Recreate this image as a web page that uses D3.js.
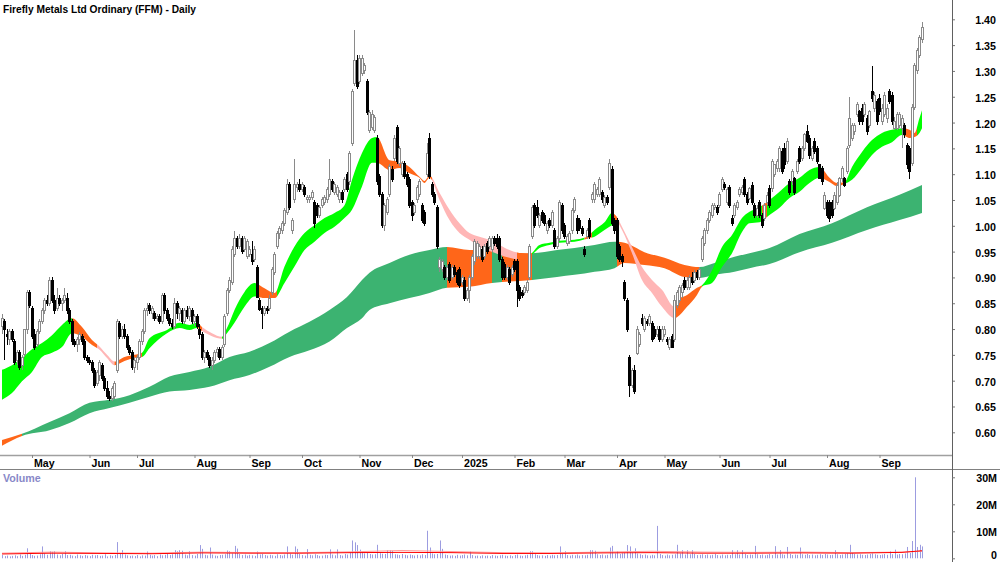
<!DOCTYPE html>
<html>
<head>
<meta charset="utf-8">
<script src="https://cdn.jsdelivr.net/npm/d3@7"></script>
<style>
  body { margin: 0; background: #fff; }
  svg text { font-family: "Liberation Sans", Arial, sans-serif; font-weight: bold; }
</style>
</head>
<body>
<script>
var width = 1000, height = 562;

var title = 'Firefly Metals Ltd Ordinary (FFM) - Daily';
var firstDay = new Date(2024, 3, 12);
var holidays = ['2024-04-25', '2024-06-10', '2024-12-25', '2024-12-26', '2025-01-01',
  '2025-01-27', '2025-04-18', '2025-04-21', '2025-04-25', '2025-06-09'];
var monthLabels = ['May', 'Jun', 'Jul', 'Aug', 'Sep', 'Oct', 'Nov', 'Dec', '2025',
  'Feb', 'Mar', 'Apr', 'May', 'Jun', 'Jul', 'Aug', 'Sep'];
var priceTicks = [0.60, 0.65, 0.70, 0.75, 0.80, 0.85, 0.90, 0.95, 1.00, 1.05, 1.10,
  1.15, 1.20, 1.25, 1.30, 1.35, 1.40];
var volTicks = [0, 10, 20, 30];

// daily bars: [open, high, low, close]
var ohlc = [
  [.805,.83,.79,.82],[.815,.82,.74,.80],[.79,.80,.77,.785],[.78,.80,.77,.795],[.795,.80,.775,.78],
  [.775,.78,.73,.735],[.74,.76,.73,.755],[.755,.76,.72,.725],[.73,.75,.72,.745],[.75,.80,.745,.80],
  [.80,.875,.79,.87],[.87,.875,.84,.845],[.84,.845,.78,.785],[.79,.80,.76,.765],[.77,.80,.765,.795],
  [.795,.82,.79,.815],[.815,.84,.81,.835],[.835,.86,.83,.855],[.855,.865,.845,.85],[.85,.90,.845,.895],
  [.895,.90,.85,.855],[.855,.865,.83,.835],[.84,.88,.835,.86],[.86,.865,.845,.85],[.85,.86,.835,.855],
  [.855,.88,.85,.865],[.86,.87,.83,.835],[.835,.84,.81,.815],[.815,.82,.77,.775],[.775,.78,.765,.77],
  [.77,.785,.755,.78],[.78,.795,.77,.79],[.785,.79,.77,.775],[.775,.78,.74,.745],[.745,.75,.735,.74],
  [.74,.745,.73,.735],[.735,.74,.715,.72],[.72,.725,.685,.69],[.695,.72,.69,.715],[.71,.74,.70,.735],
  [.73,.735,.70,.705],[.705,.71,.68,.685],[.685,.70,.665,.67],[.67,.68,.66,.665],[.665,.69,.66,.685],
  [.67,.70,.665,.695],[.72,.82,.715,.815],[.81,.815,.78,.785],[.785,.805,.78,.80],[.80,.81,.78,.785],
  [.785,.79,.76,.765],[.765,.77,.75,.755],[.755,.76,.72,.725],[.725,.745,.715,.74],[.735,.75,.72,.745],
  [.745,.78,.74,.775],[.775,.80,.77,.795],[.795,.84,.79,.835],[.835,.85,.825,.84],[.845,.85,.83,.835],
  [.83,.845,.82,.84],[.83,.835,.815,.82],[.82,.83,.815,.825],[.825,.83,.81,.815],[.815,.87,.81,.865],
  [.865,.87,.83,.835],[.835,.84,.815,.82],[.82,.83,.805,.81],[.81,.82,.80,.805],[.805,.86,.80,.85],
  [.85,.855,.82,.83],[.83,.845,.815,.84],[.835,.84,.81,.815],[.815,.84,.81,.835],[.835,.845,.82,.825],
  [.825,.845,.815,.84],[.835,.84,.81,.815],[.815,.83,.805,.825],[.825,.83,.80,.805],[.80,.81,.78,.79],
  [.79,.795,.74,.745],[.745,.76,.735,.755],[.755,.76,.74,.745],[.745,.75,.725,.73],[.73,.745,.72,.74],
  [.74,.76,.735,.755],[.755,.765,.745,.76],[.76,.765,.74,.745],[.745,.77,.74,.765],[.77,.83,.765,.825],
  [.83,.88,.825,.875],[.875,.90,.87,.895],[.89,.96,.885,.955],[.945,.99,.94,.975],[.975,.98,.955,.96],
  [.96,.985,.955,.975],[.975,.98,.945,.95],[.955,.98,.95,.975],[.94,.975,.935,.97],[.945,.96,.94,.955],
  [.945,.97,.925,.93],[.935,.96,.93,.955],[.92,.925,.86,.862],[.856,.86,.835,.837],[.84,.845,.80,.83],
  [.83,.845,.825,.84],[.84,.845,.83,.835],[.84,.865,.835,.86],[.87,.92,.865,.915],[.91,.95,.905,.945],
  [.96,.99,.955,.985],[.985,1.0,.975,.995],[.99,1.01,.985,1.005],[1.005,1.035,1.0,1.03],[1.025,1.09,1.02,1.08],
  [1.08,1.085,1.03,1.035],[.99,1.015,.985,1.01],[1.05,1.13,1.045,1.08],[1.075,1.085,1.065,1.08],[1.08,1.09,1.065,1.07],
  [1.07,1.085,1.065,1.08],[1.075,1.08,1.055,1.06],[1.05,1.06,1.045,1.055],[1.05,1.06,1.045,1.055],[1.055,1.07,1.05,1.065],
  [1.045,1.05,.995,1.005],[1.04,1.045,1.015,1.02],[1.02,1.04,1.015,1.035],[1.04,1.055,1.035,1.05],[1.045,1.06,1.04,1.055],
  [1.05,1.075,1.045,1.07],[1.06,1.13,1.055,1.09],[1.085,1.09,1.065,1.07],[1.065,1.085,1.06,1.08],[1.06,1.08,1.055,1.075],
  [1.05,1.07,1.045,1.065],[1.065,1.07,1.045,1.05],[1.07,1.095,1.065,1.09],[1.10,1.105,1.065,1.07],[1.085,1.145,1.08,1.14],
  [1.16,1.265,1.155,1.26],[1.275,1.38,1.27,1.32],[1.32,1.33,1.265,1.27],[1.28,1.33,1.275,1.325],[1.295,1.33,1.29,1.325],
  [1.30,1.315,1.295,1.31],[1.28,1.285,1.215,1.22],[1.185,1.225,1.18,1.22],[1.19,1.225,1.185,1.215],[1.185,1.215,1.18,1.21],
  [1.17,1.175,1.08,1.085],[1.095,1.10,1.055,1.06],[1.06,1.065,.995,1.0],[1.0,1.045,.99,1.04],[1.025,1.055,1.02,1.05],
  [1.06,1.12,1.055,1.115],[1.11,1.115,1.085,1.09],[1.13,1.175,1.125,1.17],[1.19,1.195,1.12,1.125],[1.12,1.155,1.115,1.15],
  [1.10,1.125,1.095,1.12],[1.12,1.125,1.09,1.095],[1.10,1.105,1.075,1.08],[1.09,1.095,1.035,1.04],[1.045,1.05,1.01,1.02],
  [1.025,1.045,1.02,1.04],[1.05,1.08,1.045,1.075],[1.06,1.09,1.055,1.085],[1.04,1.045,1.005,1.01],[1.025,1.03,1.0,1.005],
  [1.10,1.16,1.095,1.14],[1.17,1.18,1.09,1.095],[1.08,1.085,1.055,1.06],[1.06,1.065,1.04,1.045],[1.035,1.04,.955,.96],
  [.92,.94,.91,.935],[.915,.935,.91,.93],[.92,.925,.895,.90],[.90,.925,.895,.92],[.925,.93,.89,.895],
  [.90,.925,.895,.92],[.92,.925,.90,.905],[.91,.915,.885,.89],[.915,.92,.88,.885],[.89,.905,.885,.90],
  [.895,.90,.855,.86],[.86,.88,.855,.875],[.875,.905,.85,.90],[.90,.945,.895,.94],[.93,.975,.925,.97],
  [.94,.97,.935,.965],[.94,.965,.935,.96],[.955,.96,.93,.935],[.94,.965,.935,.96],[.965,.97,.945,.95],
  [.96,.98,.955,.975],[.955,.98,.95,.975],[.975,.98,.96,.965],[.975,.985,.955,.96],[.975,.98,.93,.935],
  [.935,.94,.895,.90],[.925,.93,.895,.90],[.90,.925,.895,.92],[.915,.92,.885,.89],[.905,.925,.90,.92],
  [.93,.935,.91,.915],[.93,.935,.843,.875],[.88,.885,.855,.86],[.87,.875,.86,.865],[.87,.885,.865,.88],
  [.875,.895,.87,.89],[.90,.965,.895,.96],[.98,1.04,.975,1.035],[1.04,1.045,.995,1.0],[1.035,1.05,1.015,1.02],
  [1.0,1.025,.995,1.02],[1.025,1.03,1.005,1.01],[1.02,1.025,1.0,1.005],[.99,1.01,.985,1.005],[1.01,1.015,.995,1.0],
  [1.0,1.03,.995,1.025],[.99,.995,.955,.96],[.96,.98,.955,.975],[.975,1.05,.97,1.045],[1.04,1.045,.985,.99],
  [1.0,1.005,.975,.98],[.965,.985,.96,.98],[.97,.99,.965,.985],[.99,1.035,.985,1.03],[1.03,1.055,1.025,1.05],
  [1.015,1.02,.985,.99],[1.01,1.015,.99,.995],[.995,1.0,.98,.985],[.955,.96,.94,.945],[.98,.995,.975,.99],
  [1.01,1.015,.975,.98],[1.05,1.065,1.045,1.06],[1.05,1.085,1.045,1.08],[1.06,1.075,1.055,1.07],[1.06,1.095,1.055,1.09],
  [1.065,1.07,1.045,1.05],[1.04,1.06,1.035,1.055],[1.055,1.06,1.04,1.045],[1.075,1.13,1.07,1.12],[1.11,1.115,1.0,1.005],
  [1.01,1.015,.985,.99],[1.01,1.015,.935,.94],[.96,.965,.93,.935],[.94,.945,.92,.93],[.89,.895,.855,.86],
  [.856,.86,.795,.80],[.745,.75,.668,.69],[.69,.725,.685,.72],[.72,.73,.675,.68],[.753,.805,.75,.80],
  [.77,.795,.765,.79],[.82,.83,.805,.81],[.80,.825,.795,.82],[.815,.82,.805,.81],[.81,.83,.805,.825],
  [.81,.815,.775,.78],[.80,.805,.78,.785],[.79,.805,.785,.80],[.80,.805,.775,.78],[.78,.805,.775,.80],
  [.79,.805,.785,.80],[.78,.785,.77,.775],[.765,.785,.76,.78],[.785,.79,.763,.765],[.78,.865,.775,.855],
  [.845,.875,.84,.87],[.855,.885,.85,.88],[.87,.89,.86,.885],[.895,.90,.875,.88],[.88,.90,.875,.895],
  [.88,.905,.875,.90],[.90,.91,.885,.89],[.895,.915,.89,.91],[.91,.915,.895,.90],[.90,.92,.895,.915],
  [.935,.98,.93,.975],[.965,.995,.96,.99],[.99,1.015,.985,1.01],[1.01,1.03,1.005,1.025],[1.02,1.045,1.015,1.04],
  [1.035,1.045,1.03,1.04],[1.035,1.04,1.02,1.025],[1.04,1.065,1.035,1.06],[1.07,1.095,1.065,1.09],[1.08,1.085,1.07,1.075],
  [1.045,1.075,1.04,1.07],[1.075,1.08,1.035,1.04],[1.015,1.02,1.0,1.005],[1.02,1.045,1.015,1.04],[1.035,1.05,1.03,1.045],
  [1.06,1.075,1.055,1.07],[1.065,1.08,1.06,1.075],[1.09,1.095,1.055,1.06],[1.06,1.065,1.04,1.046],[1.053,1.075,1.05,1.072],
  [1.078,1.085,1.04,1.046],[1.04,1.045,1.015,1.02],[1.02,1.04,1.015,1.033],[1.046,1.05,1.015,1.02],[1.02,1.025,.995,1.0],
  [1.014,1.045,1.01,1.04],[1.046,1.065,1.04,1.059],[1.072,1.08,1.035,1.04],[1.072,1.13,1.065,1.124],[1.10,1.12,1.095,1.118],
  [1.111,1.13,1.105,1.124],[1.111,1.155,1.105,1.15],[1.143,1.15,1.10,1.105],[1.15,1.16,1.11,1.118],[1.124,1.17,1.12,1.163],
  [1.085,1.09,1.06,1.065],[1.085,1.11,1.08,1.105],[1.092,1.095,1.06,1.065],[1.105,1.13,1.10,1.124],[1.15,1.155,1.12,1.124],
  [1.13,1.155,1.125,1.15],[1.15,1.18,1.145,1.176],[1.182,1.195,1.16,1.163],[1.17,1.175,1.13,1.137],[1.13,1.155,1.125,1.15],
  [1.163,1.17,1.14,1.143],[1.15,1.155,1.12,1.124],[1.118,1.12,1.09,1.092],[1.111,1.115,1.08,1.085],[1.033,1.065,1.03,1.059],
  [1.046,1.05,1.015,1.02],[1.046,1.05,1.008,1.014],[1.046,1.05,1.015,1.02],[1.033,1.065,1.03,1.059],[1.046,1.085,1.04,1.078],
  [1.059,1.095,1.055,1.091],[1.091,1.115,1.085,1.111],[1.091,1.095,1.075,1.078],[1.105,1.155,1.10,1.15],[1.156,1.25,1.15,1.208],
  [1.169,1.20,1.165,1.195],[1.182,1.20,1.175,1.195],[1.215,1.24,1.21,1.234],[1.221,1.225,1.195,1.202],[1.228,1.235,1.195,1.202],
  [1.215,1.24,1.21,1.234],[1.208,1.215,1.175,1.182],[1.195,1.225,1.19,1.221],[1.26,1.31,1.24,1.247],[1.228,1.26,1.22,1.253],
  [1.24,1.245,1.195,1.202],[1.247,1.255,1.215,1.221],[1.202,1.235,1.195,1.228],[1.215,1.26,1.21,1.253],[1.208,1.235,1.20,1.228],
  [1.26,1.265,1.235,1.24],[1.253,1.26,1.195,1.202],[1.189,1.21,1.185,1.202],[1.189,1.22,1.185,1.215],[1.195,1.22,1.19,1.215],
  [1.189,1.215,1.15,1.208],[1.195,1.20,1.17,1.176],[1.156,1.16,1.11,1.118],[1.15,1.155,1.09,1.105],[1.12,1.235,1.115,1.23],
  [1.23,1.315,1.225,1.31],[1.30,1.345,1.295,1.34],[1.33,1.37,1.325,1.365],[1.36,1.395,1.355,1.385]
];

// daily volume, millions
var volume = [
  1.2,0.8,1.0,0.7,0.9,1.1,0.8,1.4,0.9,1.3,3.7,1.6,1.2,0.9,1.0,1.5,4.4,1.8,1.3,2.6,
  2.4,2.6,1.4,1.1,1.6,2.6,1.2,1.3,1.0,0.8,1.4,1.1,0.9,1.2,1.0,0.8,1.3,1.1,1.2,0.9,
  1.0,1.5,0.7,1.1,0.9,1.2,6.0,1.8,3.0,1.4,1.1,0.9,1.0,0.8,1.2,0.7,1.1,1.0,2.5,1.3,
  1.0,1.2,0.8,1.4,1.1,1.3,1.7,1.2,1.5,3.0,2.6,3.0,2.8,1.4,1.1,2.6,1.2,1.0,1.6,4.9,
  3.5,1.3,1.1,4.0,1.4,1.0,0.9,1.2,1.3,1.5,2.9,2.6,1.8,4.6,3.6,1.6,1.2,1.4,1.0,1.3,
  1.1,0.9,2.5,1.4,1.6,1.2,1.0,1.3,1.1,0.9,1.5,1.2,1.0,1.4,4.4,1.7,1.3,4.4,3.5,1.6,
  1.2,1.0,3.4,1.3,1.1,1.5,1.2,0.9,1.0,1.3,1.2,3.3,1.4,1.1,3.3,1.2,1.0,1.6,1.4,2.2,
  6.6,5.9,4.9,3.2,2.4,1.8,2.0,1.6,1.4,1.5,5.0,1.9,1.7,1.6,3.0,3.0,2.8,1.5,1.4,1.2,
  1.6,1.3,1.1,1.4,1.2,1.0,1.3,1.1,1.5,1.2,10.2,4.0,1.8,1.5,1.6,6.6,3.5,1.4,1.2,1.0,
  1.1,0.9,1.3,1.0,1.2,1.4,1.1,2.5,1.2,0.9,1.0,0.8,1.1,0.9,1.0,0.8,1.2,1.0,0.9,1.1,
  1.3,1.0,0.9,1.1,0.8,1.2,1.4,1.0,0.9,1.1,1.3,2.6,2.6,1.5,1.2,1.0,1.1,0.9,1.2,1.0,
  1.3,1.1,1.2,4.4,1.6,2.6,1.2,1.0,1.3,1.1,1.4,1.0,1.2,1.1,1.3,3.0,3.0,2.8,1.5,1.2,
  1.4,1.1,1.3,4.0,4.6,1.8,2.6,1.6,1.9,2.0,4.9,4.4,2.1,3.7,1.8,1.5,1.2,1.4,1.1,1.0,
  1.3,1.1,12.0,1.6,1.2,1.0,1.4,1.1,1.3,1.5,5.0,1.8,3.0,1.4,3.0,1.5,3.0,1.6,1.2,1.3,
  1.5,1.2,1.4,1.1,1.3,1.6,1.2,1.0,1.4,1.1,1.3,1.2,3.0,1.5,3.0,1.4,3.0,1.6,1.2,1.4,
  1.3,4.6,1.5,1.2,1.4,1.1,1.3,1.6,1.2,4.5,1.4,3.0,1.5,1.3,4.2,1.6,1.2,1.4,1.3,4.0,
  1.5,1.3,1.6,1.2,1.4,1.1,1.3,1.5,1.2,1.6,1.4,1.2,1.3,3.0,1.5,1.2,1.4,1.6,1.8,5.0,
  2.0,1.6,1.4,1.5,1.3,1.2,1.4,1.6,1.8,1.5,1.3,1.2,1.4,1.6,1.3,2.6,1.5,3.2,1.4,1.6,
  1.5,1.8,4.2,2.0,6.4,30.0,4.2,5.0,4.4
];

// short-term moving average ribbon (upper / lower edge), read at these bars
var shortIdx = [0,4,8,12,16,20,24,28,32,36,39,42,45,49,53,56,59,66,71,75,78,80,84,88,90,93,97,101,105,109,
  113,117,121,125,129,133,137,140,144,148,150,155,159,163,167,169,171,175,179,183,187,191,195,199,203,207,211,215,219,223,
  229,234,237,241,244,246,248,252,256,260,264,269,270,274,278,280,284,288,292,296,299,303,307,311,315,319,323,327,331,334,
  337,340,344,348,352,356,360,363,365,367,368];
var shortTop = [.721,.730,.744,.761,.773,.788,.808,.821,.804,.779,.766,.750,.737,.746,.750,.754,.782,.798,.812,.808,.812,.804,.792,.785,.802,.837,.872,.889,.879,.870,
  .921,.960,.986,1.001,1.015,1.025,1.040,1.089,1.141,1.170,1.172,1.127,1.124,1.114,1.095,1.087,1.097,1.064,1.031,1.005,.986,.979,.973,.963,.953,.947,.945,.963,.967,.971,
  .973,.979,.992,1.007,1.025,1.017,.998,.959,.920,.895,.876,.843,.856,.866,.880,.885,.914,.959,.982,1.015,1.027,1.036,1.050,1.066,1.083,1.093,1.108,1.114,1.093,1.083,
  1.085,1.114,1.143,1.166,1.180,1.186,1.189,1.186,1.180,1.209,1.224];
var shortBot = [.663,.676,.699,.717,.746,.754,.765,.792,.785,.769,.760,.744,.730,.738,.744,.746,.763,.792,.802,.798,.802,.796,.786,.781,.792,.812,.843,.863,.860,.860,
  .889,.921,.953,.969,.986,.998,1.015,1.031,1.076,1.122,1.122,1.108,1.112,1.102,1.093,1.083,1.093,1.050,1.011,.986,.973,.959,.951,.944,.938,.934,.940,.957,.963,.967,
  .969,.975,.979,.992,1.001,1.007,.992,.947,.895,.870,.843,.821,.823,.843,.866,.882,.889,.920,.947,.988,1.005,1.007,1.021,1.035,1.054,1.066,1.083,1.093,1.085,1.077,
  1.081,1.089,1.112,1.137,1.153,1.162,1.176,1.170,1.172,1.180,1.189];
// ribbon state from each bar onward
var shortTrend = [[0,'up'],[28,'down'],[38,'fall'],[45,'down'],[56,'up'],[78,'down'],[80,'fall'],[88,'up'],
  [102,'down'],[110,'up'],[150,'down'],[172,'fall'],[206,'down'],[212,'up'],[233,'down'],[236,'up'],[244,'down'],
  [246,'fall'],[269,'down'],[280,'up'],[304,'down'],[306,'up'],[328,'down'],[337,'up'],[361,'down'],[366,'up']];

// long-term moving average ribbon
var longIdx = [0,8,19,27,35,43,51,59,67,75,83,91,99,107,115,123,131,138,144,147,155,163,171,178,187,196,200,212,222,229,
  237,245,249,257,265,273,279,285,293,299,307,319,332,346,359,368];
var longTop = [.585,.597,.620,.637,.657,.663,.672,.688,.708,.717,.727,.746,.756,.773,.795,.814,.837,.862,.895,.909,.928,.944,.953,.959,.953,.953,.949,.947,.953,.957,
  .963,.969,.967,.949,.938,.924,.920,.928,.940,.947,.957,.984,1.005,1.036,1.060,1.079];
var longBot = [.574,.593,.604,.618,.637,.647,.657,.669,.679,.682,.688,.701,.711,.727,.746,.759,.776,.802,.821,.837,.850,.860,.870,.880,.882,.889,.891,.895,.901,.905,
  .911,.918,.928,.924,.918,.901,.899,.905,.911,.918,.926,.949,.967,.992,1.011,1.025];
var longTrend = [[0,'down'],[8,'up'],[178,'down'],[196,'up'],[200,'down'],[212,'up'],[246,'down'],[279,'up']];

// volume averages, millions
var volAvgIdx = [0,20,40,60,80,100,120,140,160,180,200,220,240,260,280,300,320,340,360,368];
var volAvg = [1.6,1.9,1.8,1.7,2.0,1.9,1.9,2.1,2.2,2.1,1.8,1.8,2.0,2.1,1.9,1.9,2.0,1.9,2.2,2.8];
var volAvgLong = [1.9,2.3,2.0,1.9,2.3,2.1,2.1,2.4,2.9,2.5,2.1,2.0,2.3,2.6,2.3,2.2,2.3,2.1,2.3,2.6];

var shortColor = { up: '#00ff00', down: '#ff6619', fall: '#ffb6b6' };
var longColor = { up: '#3cb371', down: '#ff6619' };

// trading calendar
var fmt = d3.timeFormat('%Y-%m-%d');
var dates = [];
var day = firstDay;
while (dates.length < ohlc.length) {
  var wd = day.getDay();
  if (wd > 0 && wd < 6 && holidays.indexOf(fmt(day)) < 0) dates.push(day);
  day = d3.timeDay.offset(day, 1);
}
var monthStarts = [];
for (var i = 1; i < dates.length; i++) {
  if (dates[i].getMonth() != dates[i - 1].getMonth()) monthStarts.push(i);
}

var plotRight = 952;
var x = d3.scaleLinear().domain([0, ohlc.length - 1]).range([2, 922]);
var y = d3.scaleLinear().domain([0.60, 1.40]).range([432.3, 19.3]);
var yv = d3.scaleLinear().domain([0, 30]).range([558.3, 477.3]);

var svg = d3.select('body').append('svg')
  .attr('width', width)
  .attr('height', height);

svg.append('defs').append('clipPath').attr('id', 'plot')
  .append('rect').attr('x', 0).attr('y', 0).attr('width', plotRight).attr('height', 455);

var plot = svg.append('g').attr('clip-path', 'url(#plot)');

// ribbons
function drawRibbon(idx, top, bot, trend, colors, name) {
  var pts = idx.map(function(d, k) { return { i: d, t: top[k], b: bot[k] }; });
  var area = d3.area()
    .x(function(d) { return x(d.i); })
    .y0(function(d) { return y(d.b); })
    .y1(function(d) { return y(d.t); })
    .curve(d3.curveMonotoneX);
  trend.forEach(function(seg, k) {
    var from = seg[0];
    var to = k < trend.length - 1 ? trend[k + 1][0] : ohlc.length - 1;
    var id = name + k;
    svg.select('defs').append('clipPath').attr('id', id)
      .append('rect')
      .attr('x', k == 0 ? 0 : x(from))
      .attr('y', 0)
      .attr('width', (k == trend.length - 1 ? plotRight : x(to)) - (k == 0 ? 0 : x(from)))
      .attr('height', 455);
    plot.append('path')
      .datum(pts)
      .attr('d', area)
      .attr('clip-path', 'url(#' + id + ')')
      .style('fill', colors[seg[1]]);
  });
}
drawRibbon(longIdx, longTop, longBot, longTrend, longColor, 'lr');
drawRibbon(shortIdx, shortTop, shortBot, shortTrend, shortColor, 'sr');

// candles
var candles = plot.selectAll('g.candle')
  .data(ohlc)
  .enter()
  .append('g')
  .attr('class', 'candle')
  .style('shape-rendering', 'crispEdges');

candles.append('line')
  .attr('x1', function(d, i) { return x(i); })
  .attr('x2', function(d, i) { return x(i); })
  .attr('y1', function(d) { return y(d[1]); })
  .attr('y2', function(d) { return y(d[2]); })
  .style('stroke', function(d) { return d[3] >= d[0] ? '#8a8a8a' : '#000'; })
  .style('stroke-width', 1);

candles.append('rect')
  .attr('x', function(d, i) { return x(i) - 1; })
  .attr('y', function(d) { return y(Math.max(d[0], d[3])); })
  .attr('width', 2)
  .attr('height', function(d) { return Math.max(1, Math.abs(y(d[0]) - y(d[3]))); })
  .style('fill', function(d) { return d[3] >= d[0] ? '#fff' : '#000'; })
  .style('stroke', function(d) { return d[3] >= d[0] ? '#8a8a8a' : '#000'; })
  .style('stroke-width', 1);

// title
svg.append('text')
  .attr('x', 3)
  .attr('y', 13)
  .style('font-size', '10.2px')
  .style('fill', '#000')
  .text(title);

// price axis
var yAxis = d3.axisRight(y)
  .tickValues(priceTicks)
  .tickSize(3)
  .tickFormat(d3.format('.2f'));
var ya = svg.append('g')
  .attr('transform', 'translate(' + plotRight + ',0)')
  .call(yAxis);
ya.select('.domain').remove();
ya.selectAll('line').style('stroke', '#777');
ya.selectAll('text')
  .attr('x', 44)
  .attr('dy', '0.42em')
  .style('text-anchor', 'end')
  .style('font-family', '"Liberation Sans", Arial, sans-serif')
  .style('font-weight', 'bold')
  .style('font-size', '10.7px')
  .style('fill', '#000');

// date strip
svg.append('line')
  .attr('x1', 0).attr('x2', plotRight)
  .attr('y1', 455.5).attr('y2', 455.5)
  .style('stroke', '#a0a0a0').style('stroke-width', 1.5);
svg.append('line')
  .attr('x1', 0).attr('x2', width)
  .attr('y1', 469.5).attr('y2', 469.5)
  .style('stroke', '#808080').style('stroke-width', 1);

var xAxis = d3.axisBottom(x)
  .tickValues(monthStarts)
  .tickSize(3)
  .tickFormat(function(d, k) { return monthLabels[k]; });
var xa = svg.append('g')
  .attr('transform', 'translate(0,455)')
  .call(xAxis);
xa.select('.domain').remove();
xa.selectAll('line').style('stroke', '#888');
xa.selectAll('text')
  .attr('x', 1.5)
  .attr('y', 11.5)
  .attr('dy', null)
  .style('text-anchor', 'start')
  .style('font-family', '"Liberation Sans", Arial, sans-serif')
  .style('font-weight', 'bold')
  .style('font-size', '10.6px')
  .style('fill', '#000');

// vertical axis line
svg.append('line')
  .attr('x1', plotRight + 0.5).attr('x2', plotRight + 0.5)
  .attr('y1', 0).attr('y2', height)
  .style('stroke', '#606060').style('stroke-width', 1);

// volume panel
var vol = svg.append('g');
vol.selectAll('line.vbar')
  .data(volume)
  .enter()
  .append('line')
  .attr('class', 'vbar')
  .attr('x1', function(d, i) { return Math.round(x(i)) + 0.5; })
  .attr('x2', function(d, i) { return Math.round(x(i)) + 0.5; })
  .attr('y1', yv(0))
  .attr('y2', function(d) { return yv(d); })
  .style('stroke', '#9c9ce0')
  .style('stroke-width', 1);

var avgLine = d3.line()
  .x(function(d) { return x(d[0]); })
  .y(function(d) { return yv(d[1]); });
vol.append('path')
  .datum(volAvgIdx.map(function(d, k) { return [d, volAvgLong[k]]; }))
  .attr('d', avgLine)
  .style('fill', 'none')
  .style('stroke', '#ff9c9c')
  .style('stroke-width', 1);
vol.append('path')
  .datum(volAvgIdx.map(function(d, k) { return [d, volAvg[k]]; }))
  .attr('d', avgLine)
  .style('fill', 'none')
  .style('stroke', '#ff0000')
  .style('stroke-width', 1);

svg.append('text')
  .attr('x', 3)
  .attr('y', 482)
  .style('font-size', '10.7px')
  .style('fill', '#8888c8')
  .text('Volume');

var vAxis = d3.axisRight(yv)
  .tickValues(volTicks)
  .tickSize(3)
  .tickFormat(function(d) { return d == 0 ? '0' : d + 'M'; });
var va = svg.append('g')
  .attr('transform', 'translate(' + plotRight + ',0)')
  .call(vAxis);
va.select('.domain').remove();
va.selectAll('line').style('stroke', '#777');
va.selectAll('text')
  .attr('x', 45)
  .attr('dy', function(d) { return d == 0 ? '0.05em' : '0.4em'; })
  .style('text-anchor', 'end')
  .style('font-family', '"Liberation Sans", Arial, sans-serif')
  .style('font-weight', 'bold')
  .style('font-size', '10.7px')
  .style('fill', '#000');
</script>
</body>
</html>
